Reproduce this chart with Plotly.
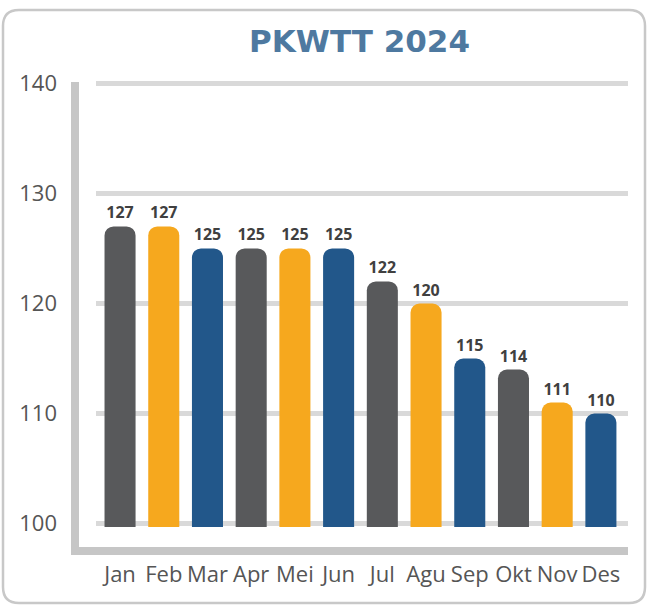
import plotly.graph_objects as go

months = ["Jan", "Feb", "Mar", "Apr", "Mei", "Jun", "Jul", "Agu", "Sep", "Okt", "Nov", "Des"]
values = [127, 127, 125, 125, 125, 125, 122, 120, 115, 114, 111, 110]
palette = ["#58595b", "#f6a81e", "#22578a"]
title_text = "PKWTT 2024"
y_ticks = [100, 110, 120, 130, 140]

W, H = 648, 605
L, R, T, B = 96, 20, 80, 78
PW, PH = W - L - R, H - T - B


def px(x):
    return (x - L) / PW


def py(y):
    return (H - B - y) / PH


colors = [palette[i % 3] for i in range(len(months))]

fig = go.Figure()
fig.add_trace(go.Bar(
    x=list(range(len(months))),
    y=values,
    marker=dict(color=colors, cornerradius=9, line=dict(width=0)),
    width=0.71,
    text=[str(v) for v in values],
    textposition="outside",
    textfont=dict(family="Open Sans", size=16, color="#404040", weight="bold"),
    cliponaxis=True,
    hoverinfo="skip",
))

fig.update_layout(
    width=W, height=H,
    margin=dict(l=L, r=R, t=T, b=B),
    paper_bgcolor="white", plot_bgcolor="white",
    showlegend=False,
    xaxis=dict(
        range=[-0.55, 11.62],
        tickmode="array", tickvals=list(range(len(months))), ticktext=months,
        tickfont=dict(family="Open Sans", size=22, color="#555555"),
        showgrid=False, zeroline=False, showline=False, ticks="",
        ticklabelstandoff=32,
    ),
    yaxis=dict(
        range=[99.7, 140.3],
        tickvals=y_ticks,
        tickfont=dict(family="Open Sans", size=22, color="#555555"),
        showgrid=True, gridcolor="#d9d9d9", gridwidth=5,
        zeroline=False, showline=False, ticks="",
        ticklabelstandoff=38,
    ),
)

# title
fig.add_annotation(
    text="<b>" + title_text + "</b>", xref="paper", yref="paper",
    x=px(359), y=py(41), xanchor="center", yanchor="middle", showarrow=False,
    font=dict(family="DejaVu Sans", size=31, color="#4e79a0"),
)

axis_col = "#c6c6c6"
# left axis line
fig.add_shape(type="line", xref="paper", yref="paper",
              x0=px(75), x1=px(75), y0=py(82), y1=py(551),
              line=dict(color=axis_col, width=8))
# bottom axis line
fig.add_shape(type="line", xref="paper", yref="paper",
              x0=px(71), x1=px(628), y0=py(551), y1=py(551),
              line=dict(color=axis_col, width=8))

# rounded outer border
x0, x1, y0, y1, r = 3, 645, 10, 603, 16
path = (f"M {px(x0+r)},{py(y0)} L {px(x1-r)},{py(y0)} "
        f"Q {px(x1)},{py(y0)} {px(x1)},{py(y0+r)} "
        f"L {px(x1)},{py(y1-r)} Q {px(x1)},{py(y1)} {px(x1-r)},{py(y1)} "
        f"L {px(x0+r)},{py(y1)} Q {px(x0)},{py(y1)} {px(x0)},{py(y1-r)} "
        f"L {px(x0)},{py(y0+r)} Q {px(x0)},{py(y0)} {px(x0+r)},{py(y0)} Z")
fig.add_shape(type="path", xref="paper", yref="paper", path=path,
              line=dict(color="#c8c8c8", width=2.5), layer="below")

fig.write_html("out.html", config={"displayModeBar": False},
               post_script="document.body.style.margin='0';document.body.style.overflow='hidden';")
